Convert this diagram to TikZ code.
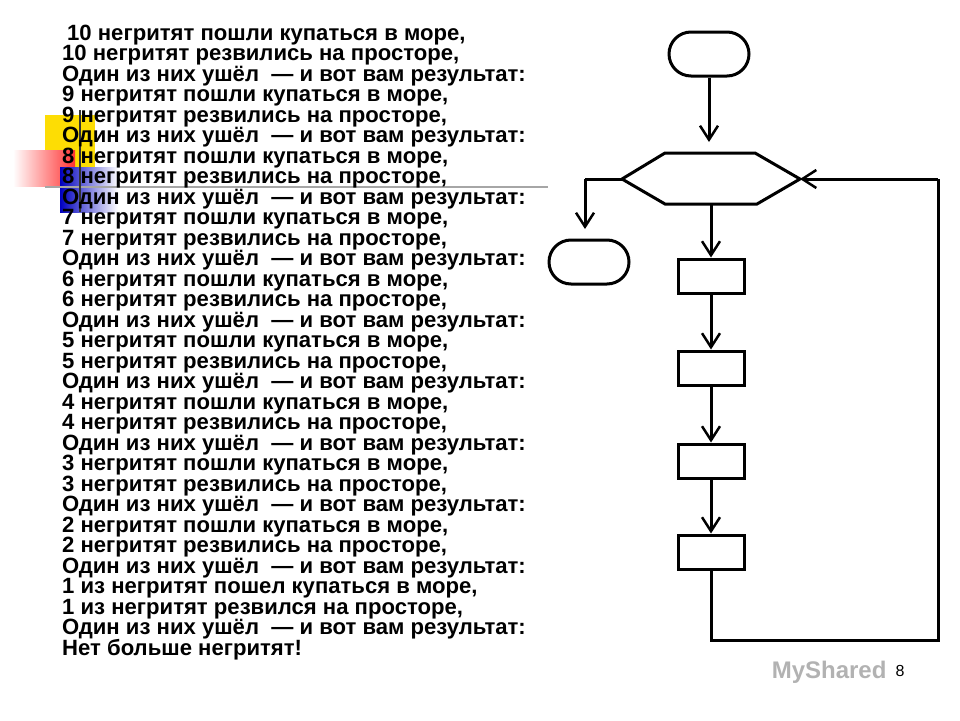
\documentclass[tikz,border=0pt]{standalone}
\usepackage{fontspec}
\setmainfont{Liberation Sans}
\usetikzlibrary{arrows.meta,shapes.misc}
\begin{document}
\begin{tikzpicture}[x=1pt,y=-1pt,
  fl/.style={line width=3pt,black},
  arr/.style={fl,-{Straight Barb[length=14pt,width=18pt,line width=2.5pt]}},
  term/.style={fl,draw,rounded rectangle,minimum width=80pt,minimum height=44pt,inner sep=0pt},
  proc/.style={fl,draw,rectangle,minimum width=66pt,minimum height=34pt,inner sep=0pt},
  ln/.style={font=\bfseries\fontsize{22.1}{22}\selectfont,anchor=west,inner sep=0pt}]
\useasboundingbox (0,0) rectangle (960,720);
% decorations
\fill[yellow!80!orange] (45,115) rectangle (95,167);
\shade[left color=white,right color=red!80] (13,150) rectangle (75,186);
\shade[left color=blue!75!black,right color=white] (60,167) rectangle (118,212);
\draw[gray!70,line width=1.5pt] (45,187) -- (548,187);
\draw[black!80,line width=1.2pt] (80,110) -- (80,212);
% text
\foreach \t [count=\i] in {
{10 негритят пошли купаться в море,},
{10 негритят резвились на просторе,},
{Один из них ушёл \ — и вот вам результат:},
{9 негритят пошли купаться в море,},
{9 негритят резвились на просторе,},
{Один из них ушёл \ — и вот вам результат:},
{8 негритят пошли купаться в море,},
{8 негритят резвились на просторе,},
{Один из них ушёл \ — и вот вам результат:},
{7 негритят пошли купаться в море,},
{7 негритят резвились на просторе,},
{Один из них ушёл \ — и вот вам результат:},
{6 негритят пошли купаться в море,},
{6 негритят резвились на просторе,},
{Один из них ушёл \ — и вот вам результат:},
{5 негритят пошли купаться в море,},
{5 негритят резвились на просторе,},
{Один из них ушёл \ — и вот вам результат:},
{4 негритят пошли купаться в море,},
{4 негритят резвились на просторе,},
{Один из них ушёл \ — и вот вам результат:},
{3 негритят пошли купаться в море,},
{3 негритят резвились на просторе,},
{Один из них ушёл \ — и вот вам результат:},
{2 негритят пошли купаться в море,},
{2 негритят резвились на просторе,},
{Один из них ушёл \ — и вот вам результат:},
{1 из негритят пошел купаться в море,},
{1 из негритят резвился на просторе,},
{Один из них ушёл \ — и вот вам результат:},
{Нет больше негритят!}}
{\node[ln] (l\i) at ({\i==1 ? 67 : 62},{35+20.5*(\i-1)}) {\t};}
% flowchart
\node[term] (start) at (709,54) {};
\coordinate (hl) at (622,179);
\coordinate (hr) at (800,179);
\draw[fl,line join=miter] (hl) -- (665,153) -- (755,153) -- (hr) -- (757,204) -- (665,204) -- cycle;
\coordinate (hb) at (711,204);
\node[term] (stop) at (589,262) {};
\node[proc] (p1) at (711,276) {};
\node[proc] (p2) at (711,368) {};
\node[proc] (p3) at (711,461) {};
\node[proc] (p4) at (711,552) {};
\coordinate (cl) at (585,179);
\coordinate (cb) at (711,640);
\coordinate (cr) at (938,640);
\coordinate (ct) at (938,179);
\draw[arr] (start) -- (709,142);
\draw[fl] (hl) -- (cl);
\draw[arr] (cl) -- (585,229);
\draw[arr] (hb) -- (p1);
\draw[arr] (p1) -- (p2);
\draw[arr] (p2) -- (p3);
\draw[arr] (p3) -- (p4);
\draw[fl] (p4) -- (cb) -- (cr) -- (ct);
\draw[arr] (ct) -- (hr);
% footer
\node[text=gray!60,font=\bfseries\fontsize{24}{24}\selectfont,anchor=east] (wm) at (890,672) {MyShared};
\node[font=\fontsize{16}{16}\selectfont] (pg) at (900,671) {8};
\end{tikzpicture}
\end{document}
